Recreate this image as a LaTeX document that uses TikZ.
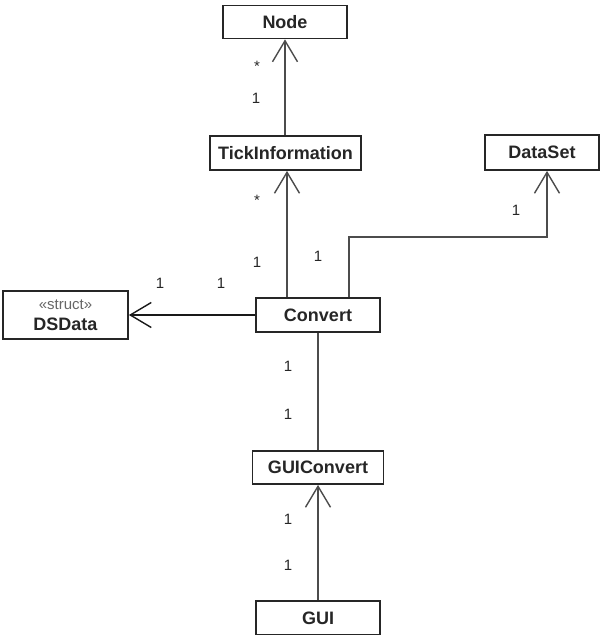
\documentclass[tikz,border=0pt]{standalone}
\usepackage{fontspec}
\setmainfont{Liberation Sans}
\usetikzlibrary{arrows.meta}
\begin{document}
\begin{tikzpicture}[x=1pt,y=-1pt,
  cls/.style={draw=black!85, line width=1.8pt, fill=white, inner sep=0pt,
    font=\fontsize{18}{20}\selectfont\bfseries, text=black!85},
  assoc/.style={draw=black!70, line width=1.6pt},
  nav/.style={assoc, -{Straight Barb[length=21pt,width=25pt,line width=1.4pt]}},
  mult/.style={font=\fontsize{15}{17}\selectfont, text=black!85}]
\useasboundingbox (0,0) rectangle (610,635);
% classes
\node[cls, minimum width=124pt, minimum height=33pt] (node) at (285,22) {Node};
\node[cls, minimum width=151pt, minimum height=34pt] (tick) at (285.5,153) {TickInformation};
\node[cls, minimum width=114pt, minimum height=35pt] (dataset) at (542,152.5) {DataSet};
\node[cls, minimum width=124pt, minimum height=34pt] (convert) at (318,315) {Convert};
\node[cls, minimum width=125pt, minimum height=48pt, align=center] (dsdata) at (65.5,315)
  {{\fontsize{15}{17}\selectfont\mdseries\color{black!60}«struct»}\\[1pt]DSData};
\node[cls, minimum width=131pt, minimum height=33pt] (guiconvert) at (318,467.5) {GUIConvert};
\node[cls, minimum width=124pt, minimum height=34pt] (gui) at (318,618) {GUI};
% associations
\draw[nav] (tick.north -| node.south) -- (node.south);
\draw[nav] (convert.north -| 287,0) -- (287,0 |- tick.south);
\coordinate (bend1) at (349,237);
\coordinate (bend2) at (547,237);
\draw[nav] (convert.north -| bend1) -- (bend1) -- (bend2) -- (bend2 |- dataset.south);
\draw[nav, draw=black!90] (convert.west) -- (dsdata.east);
\draw[assoc] (convert.south) -- (guiconvert.north);
\draw[nav] (gui.north) -- (guiconvert.south);
% multiplicities
\node[mult] (m1) at (257,66) {*};
\node[mult] (m2) at (256,98) {1};
\node[mult] (m3) at (257,200) {*};
\node[mult] (m4) at (257,262) {1};
\node[mult] (m5) at (318,256) {1};
\node[mult] (m6) at (516,210) {1};
\node[mult] (m7) at (160,283) {1};
\node[mult] (m8) at (221,283) {1};
\node[mult] (m9) at (288,366) {1};
\node[mult] (m10) at (288,414) {1};
\node[mult] (m11) at (288,519) {1};
\node[mult] (m12) at (288,565) {1};
\end{tikzpicture}
\end{document}
